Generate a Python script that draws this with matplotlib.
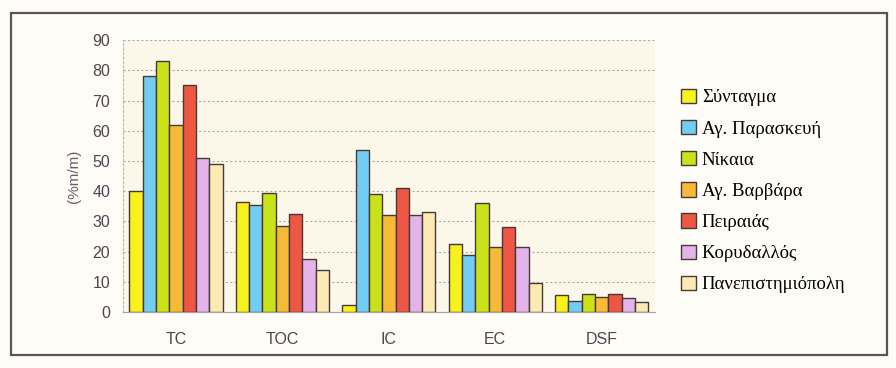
import matplotlib.pyplot as plt
import numpy as np
from matplotlib.patches import Rectangle

categories = ['TC', 'TOC', 'IC', 'EC', 'DSF']
sites = ['Σύνταγμα', 'Αγ. Παρασκευή', 'Νίκαια', 'Αγ. Βαρβάρα',
         'Πειραιάς', 'Κορυδαλλός', 'Πανεπιστημιόπολη']

syntagma = [40, 36.5, 2.5, 22.5, 5.5]
ag_paraskevi = [78, 35.5, 53.5, 19, 3.7]
nikaia = [83, 39.5, 39, 36, 6]
ag_varvara = [62, 28.5, 32, 21.5, 5]
peiraias = [75, 32.5, 41, 28, 6]
korydallos = [51, 17.5, 32, 21.5, 4.8]
panepistimioupoli = [49, 14, 33, 9.5, 3.3]

series = [syntagma, ag_paraskevi, nikaia, ag_varvara, peiraias, korydallos, panepistimioupoli]
colors = ['#f7f21c', '#72cdf2', '#c9e21a', '#f6b938', '#ee5744', '#e2b4ea', '#fbeab4']

fig = plt.figure(figsize=(8.96, 3.68), dpi=100, facecolor='#fdfcf7')
fig.patches.append(Rectangle((0.012, 0.035), 0.978, 0.93, transform=fig.transFigure,
                             fill=False, edgecolor='#5a5458', linewidth=1.6))
ax = fig.add_axes([0.137, 0.152, 0.594, 0.739])
ax.set_facecolor('#fbf8ea')

x = np.arange(len(categories))
w = 0.125
for i, (vals, c, name) in enumerate(zip(series, colors, sites)):
    ax.bar(x + (i - 3) * w, vals, w, color=c, edgecolor='#4a3838', linewidth=1.0,
           label=name, zorder=3)

ax.set_xlim(-0.5, len(categories) - 0.5)
ax.set_ylim(0, 90)
ax.set_yticks(range(0, 91, 10))
ax.set_xticks(x)
ax.set_xticklabels(categories)
ax.yaxis.grid(True, linestyle=(0, (2, 2)), color='#b0aaa8', linewidth=0.8, zorder=0)
for s in ['top', 'right']:
    ax.spines[s].set_visible(False)
ax.spines['left'].set_color('#c0b8b0')
ax.spines['left'].set_linestyle((0, (2, 2)))
ax.spines['bottom'].set_color('#a8a0a0')
ax.tick_params(axis='both', length=0, labelsize=11.5, colors='#4e4650', labelfontfamily='Liberation Sans')
ax.tick_params(axis='x', pad=14)
ax.tick_params(axis='y', pad=9)
ax.set_ylabel('(%m/m)', fontsize=11, color='#6a6270', family='Liberation Sans', labelpad=8)

ax.legend(loc='center left', bbox_to_anchor=(1.0, 0.445), frameon=False,
          prop={'family': 'Liberation Serif', 'size': 13.5}, handlelength=0.8,
          handleheight=0.8, handletextpad=0.3, labelspacing=0.72, borderaxespad=1.0)

fig.savefig('out.png', dpi=100, facecolor=fig.get_facecolor())
